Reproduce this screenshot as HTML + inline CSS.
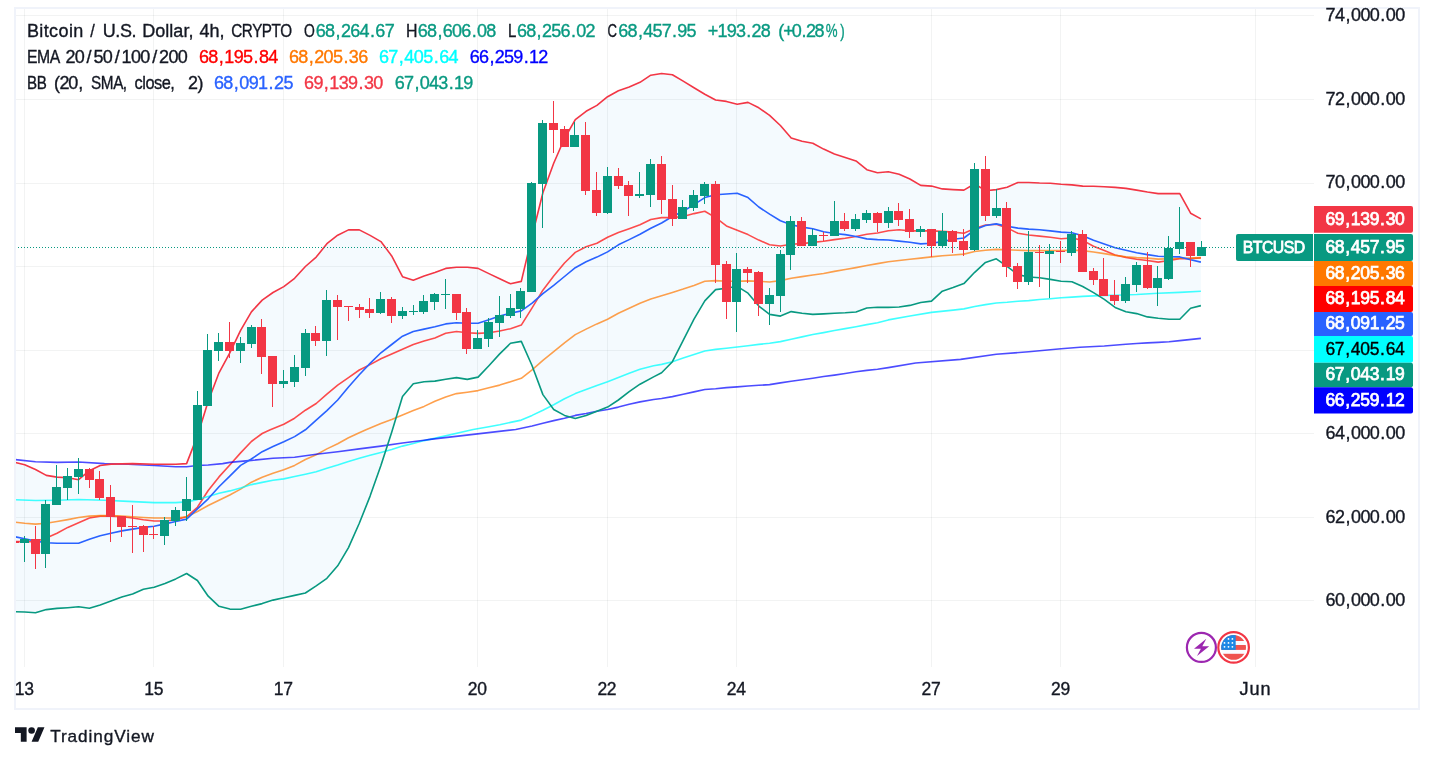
<!DOCTYPE html>
<html><head><meta charset="utf-8"><title>BTCUSD chart</title>
<style>html,body{margin:0;padding:0;background:#fff;width:1434px;height:762px;overflow:hidden}
svg text{font-family:'Liberation Sans', sans-serif;white-space:pre;stroke-width:0.35px;paint-order:stroke fill}</style></head>
<body>
<svg width="1434" height="762" viewBox="0 0 1434 762" style="position:absolute;left:0;top:0;will-change:transform">
<rect x="15" y="15" width="1299" height="1" fill="rgba(42,46,57,0.06)"/>
<rect x="15" y="99" width="1299" height="1" fill="rgba(42,46,57,0.06)"/>
<rect x="15" y="183" width="1299" height="1" fill="rgba(42,46,57,0.06)"/>
<rect x="15" y="266" width="1299" height="1" fill="rgba(42,46,57,0.06)"/>
<rect x="15" y="350" width="1299" height="1" fill="rgba(42,46,57,0.06)"/>
<rect x="15" y="433" width="1299" height="1" fill="rgba(42,46,57,0.06)"/>
<rect x="15" y="517" width="1299" height="1" fill="rgba(42,46,57,0.06)"/>
<rect x="15" y="600" width="1299" height="1" fill="rgba(42,46,57,0.06)"/>
<rect x="24" y="8" width="1" height="659" fill="rgba(42,46,57,0.06)"/>
<rect x="153" y="8" width="1" height="659" fill="rgba(42,46,57,0.06)"/>
<rect x="283" y="8" width="1" height="659" fill="rgba(42,46,57,0.06)"/>
<rect x="477" y="8" width="1" height="659" fill="rgba(42,46,57,0.06)"/>
<rect x="607" y="8" width="1" height="659" fill="rgba(42,46,57,0.06)"/>
<rect x="736" y="8" width="1" height="659" fill="rgba(42,46,57,0.06)"/>
<rect x="931" y="8" width="1" height="659" fill="rgba(42,46,57,0.06)"/>
<rect x="1060" y="8" width="1" height="659" fill="rgba(42,46,57,0.06)"/>
<rect x="1255" y="8" width="1" height="659" fill="rgba(42,46,57,0.06)"/>
<polygon points="15.5,462.4 24.7,464.8 35.5,469.5 46.3,475.4 57.0,477.1 67.8,477.8 78.6,479.7 89.4,470.7 100.2,465.5 111.0,464.1 132.6,463.6 154.2,464.3 175.8,464.3 186.6,463.6 197.4,435.9 208.2,401.2 219.0,372.8 229.8,352.8 240.6,330.3 251.4,311.9 262.2,300.1 273.0,292.5 283.8,286.6 294.6,278.3 305.4,266.5 316.2,257.1 326.9,243.7 337.7,235.2 348.5,229.9 359.3,229.9 370.1,235.4 380.9,241.6 391.7,255.9 402.5,276.7 413.3,280.2 424.1,276.0 434.9,272.4 445.7,268.4 456.5,267.2 467.3,267.2 478.1,268.4 488.9,273.6 499.7,278.8 510.5,283.8 521.3,281.4 531.6,238.0 542.9,192.8 553.7,163.3 564.5,138.5 575.3,119.6 586.1,111.3 596.9,105.4 607.6,96.7 618.4,90.8 629.2,87.0 640.0,82.3 650.8,75.2 661.6,73.5 672.4,74.7 683.2,81.1 694.0,87.7 704.8,94.3 715.6,100.0 726.4,101.4 737.2,104.3 748.0,102.4 758.8,107.8 769.6,115.4 780.4,125.5 791.2,138.0 802.0,141.3 812.8,143.2 823.6,149.1 834.4,153.9 845.2,157.4 856.0,160.9 866.8,169.7 877.5,172.8 888.3,171.7 899.1,174.3 909.9,179.0 920.7,185.4 931.5,186.1 942.3,188.9 953.1,189.6 963.9,190.1 974.7,183.7 985.5,190.8 996.3,189.6 1007.1,187.2 1017.9,182.5 1028.7,182.5 1039.5,183.0 1050.3,183.2 1061.1,184.2 1071.9,184.9 1082.7,186.1 1093.5,186.3 1104.3,186.7 1115.1,187.4 1125.9,188.4 1136.6,190.1 1147.4,192.0 1158.2,193.6 1169.0,193.6 1179.8,193.6 1190.6,213.2 1200.9,218.9 1200.9,305.6 1190.6,308.2 1179.8,319.3 1169.0,319.3 1158.2,318.3 1147.4,316.9 1136.6,313.6 1125.9,311.7 1115.1,307.4 1104.3,299.4 1093.5,292.6 1082.7,286.5 1071.9,281.7 1061.1,281.3 1050.3,279.4 1039.5,277.7 1028.7,277.0 1017.9,274.6 1007.1,266.4 996.3,258.8 985.5,262.4 974.7,272.3 963.9,283.6 953.1,287.6 942.3,291.2 931.5,301.1 920.7,302.5 909.9,305.4 899.1,307.0 888.3,307.4 877.5,307.3 866.8,308.0 856.0,312.0 845.2,312.8 834.4,313.2 823.6,313.9 812.8,314.4 802.0,313.2 791.2,311.6 780.4,316.1 769.6,314.4 758.8,306.1 748.0,293.2 737.2,286.3 726.4,288.2 715.6,289.6 704.8,300.9 694.0,319.1 683.2,340.4 672.4,361.7 661.6,372.8 653.6,376.9 640.0,384.2 629.2,391.7 618.4,400.0 607.6,407.1 596.9,411.3 586.1,415.4 575.3,418.4 564.5,415.4 553.7,409.5 542.9,394.6 532.1,365.7 521.3,341.4 510.5,343.3 499.7,353.9 488.9,365.7 478.1,377.1 467.3,379.4 456.5,377.6 445.7,379.2 434.9,381.1 424.1,381.8 413.3,383.7 402.5,396.5 391.7,432.2 380.9,465.4 370.1,496.1 359.3,523.3 348.5,547.6 337.7,565.8 326.9,578.3 316.2,585.9 305.4,593.0 294.6,595.4 283.8,597.7 273.0,600.1 262.2,603.6 251.4,606.3 240.6,609.2 229.8,609.1 219.0,606.3 208.2,596.2 197.4,580.5 186.6,573.5 175.8,578.9 165.0,583.6 154.2,587.2 143.4,589.3 132.6,594.0 121.8,597.1 111.0,601.1 100.2,604.9 89.4,608.2 78.6,606.8 67.8,607.7 57.0,608.4 46.3,609.6 35.5,612.7 24.7,612.0 15.5,611.7" fill="rgba(33,150,243,0.05)"/>
<polyline points="15.5,541.6 35.5,541.6 46.3,538.0 57.0,533.3 67.8,527.4 78.6,522.7 89.4,518.0 100.2,516.1 111.0,516.1 121.8,516.8 132.6,518.0 143.4,519.8 154.2,521.0 165.0,521.0 175.8,519.8 186.6,516.8 197.4,507.3 208.2,490.5 219.0,476.9 229.8,465.0 240.6,452.9 251.4,441.5 262.2,433.5 270.3,429.8 283.8,424.3 294.6,418.2 305.4,410.2 316.2,403.5 326.9,394.1 337.7,385.1 348.5,377.6 359.3,370.0 370.1,364.6 380.9,358.7 391.7,353.9 402.5,349.2 413.3,344.5 424.1,340.9 434.9,337.9 445.7,333.2 456.5,331.5 467.3,332.7 478.1,333.4 488.9,332.7 499.7,331.0 510.5,328.7 521.3,325.1 532.1,307.9 542.9,290.2 553.7,276.0 564.5,263.0 575.3,252.4 586.1,246.7 596.9,243.2 607.6,237.2 618.4,232.5 629.2,228.7 640.0,224.7 650.8,219.5 661.6,217.6 672.4,217.6 683.2,216.5 694.0,213.6 704.8,211.3 715.6,217.6 726.4,225.9 737.2,230.2 748.0,234.6 758.8,240.1 769.6,244.8 780.4,246.0 791.2,244.3 802.0,243.6 812.8,242.4 823.6,241.3 834.4,239.6 845.2,238.2 856.0,236.5 866.8,234.2 877.5,233.0 888.3,230.8 899.1,229.8 909.9,230.9 920.7,230.9 931.5,230.9 942.3,231.4 953.1,232.1 963.9,233.3 974.7,228.6 985.5,225.0 996.3,224.3 1007.1,227.9 1017.9,233.3 1028.7,235.0 1039.5,236.1 1050.3,237.3 1061.1,238.7 1071.9,238.0 1082.7,240.4 1093.5,246.3 1104.3,250.4 1115.1,255.0 1125.9,257.4 1136.6,259.3 1147.4,260.5 1158.2,262.1 1169.0,260.5 1179.8,258.6 1190.6,258.6 1200.9,257.9" fill="none" stroke="#FF0000" stroke-width="1.6" stroke-opacity="0.7" stroke-linejoin="round"/>
<polyline points="15.5,522.2 24.7,523.2 35.5,524.1 46.3,523.2 57.0,521.5 67.8,519.6 78.6,517.5 89.4,516.1 100.2,515.6 111.0,515.6 121.8,516.1 132.6,516.8 143.4,517.5 154.2,518.0 165.0,518.0 175.8,518.0 186.6,516.8 197.4,511.5 208.2,505.5 219.0,500.2 229.8,495.0 240.6,489.1 251.4,482.2 262.2,477.2 273.0,473.2 283.8,469.7 294.6,465.4 305.4,459.5 316.2,454.8 326.9,448.9 337.7,443.7 348.5,437.8 359.3,432.8 366.0,429.8 380.9,423.6 391.7,419.6 402.5,414.9 413.3,410.6 424.1,406.4 434.9,401.2 445.7,396.9 456.5,393.6 467.3,392.2 478.1,390.6 488.9,387.7 499.7,385.1 510.5,381.8 521.3,378.3 532.1,369.8 542.9,360.3 553.7,351.6 564.5,342.8 575.3,334.6 586.1,329.1 596.9,323.9 607.6,319.2 618.4,313.3 629.2,308.3 640.0,303.2 650.8,299.1 661.6,295.8 672.4,292.4 683.2,289.1 694.0,285.4 704.8,281.3 715.6,280.6 726.4,281.3 737.2,281.3 748.0,280.9 758.8,281.3 769.6,282.0 780.4,280.6 791.2,278.3 802.0,276.6 812.8,275.0 823.6,273.5 834.4,271.4 845.2,269.5 856.0,267.6 866.8,265.5 877.5,263.6 888.3,261.8 899.1,260.5 909.9,259.3 920.7,258.1 931.5,256.9 942.3,255.7 953.1,255.0 963.9,254.1 974.7,251.5 985.5,250.3 996.3,249.4 1007.1,249.8 1017.9,250.3 1028.7,250.6 1039.5,250.6 1050.3,250.6 1061.1,250.6 1071.9,250.1 1082.7,250.6 1093.5,252.0 1104.3,253.6 1115.1,255.4 1125.9,256.7 1136.6,257.6 1147.4,258.1 1158.2,259.1 1169.0,258.8 1179.8,258.3 1190.6,258.1 1200.9,257.6" fill="none" stroke="#FF7800" stroke-width="1.6" stroke-opacity="0.7" stroke-linejoin="round"/>
<polyline points="15.5,499.8 35.5,500.5 57.0,500.2 78.6,499.5 104.5,500.2 128.1,501.4 154.2,502.6 175.8,502.6 186.6,501.9 197.4,499.6 208.2,496.4 219.0,493.3 229.8,490.9 240.6,487.9 251.4,484.6 262.2,482.4 273.0,480.3 283.8,478.9 294.6,476.5 305.4,474.2 316.2,471.8 326.9,468.3 337.7,465.0 348.5,461.4 359.3,458.3 370.1,455.3 380.9,452.4 391.7,449.4 402.5,446.1 413.3,443.5 424.1,440.6 430.0,439.4 473.2,429.5 488.9,426.7 499.7,424.8 510.5,422.4 521.3,420.1 532.1,415.4 542.9,410.2 553.7,404.7 564.5,398.8 575.3,393.6 586.1,389.4 596.9,385.4 607.6,381.8 618.4,377.6 629.2,373.3 640.0,369.3 653.6,365.7 661.6,364.4 672.4,361.7 683.2,358.1 694.0,354.6 704.8,351.0 715.6,349.4 726.4,348.2 737.2,347.0 748.0,345.8 758.8,344.4 769.6,343.2 780.4,341.6 791.2,339.2 802.0,336.9 812.8,334.5 823.6,332.6 834.4,330.5 845.2,328.6 856.0,326.7 866.8,324.6 877.5,322.7 888.3,319.9 909.9,316.0 931.5,312.4 953.1,310.1 963.9,308.9 974.7,306.5 985.5,304.6 996.3,303.0 1007.1,302.3 1017.9,301.3 1028.7,300.6 1039.5,299.5 1050.3,298.7 1061.1,297.8 1071.9,297.1 1082.7,296.4 1093.5,295.9 1104.3,295.4 1115.1,295.2 1136.6,294.5 1158.2,293.3 1179.8,292.4 1200.9,291.2" fill="none" stroke="#00FFFF" stroke-width="1.6" stroke-opacity="0.75" stroke-linejoin="round"/>
<polyline points="15.5,459.6 35.5,461.7 57.0,462.4 78.6,462.0 104.5,463.6 128.1,464.3 154.2,465.5 175.8,466.7 186.6,466.7 197.4,465.5 208.2,465.0 222.6,463.6 229.8,462.4 251.4,460.4 273.0,458.3 294.6,457.2 316.2,454.3 337.7,451.7 359.3,448.9 380.9,446.1 402.5,443.0 424.1,440.2 430.0,439.4 515.7,429.5 532.1,426.0 542.9,423.2 553.7,420.6 564.5,418.2 575.3,415.4 586.1,413.5 596.9,411.3 607.6,409.5 618.4,407.1 629.2,404.3 640.0,401.9 653.6,399.5 661.6,398.5 672.4,396.6 683.2,394.3 694.0,391.9 704.8,389.5 715.6,388.8 726.4,387.6 737.2,386.9 748.0,386.0 758.8,385.3 769.6,384.6 780.4,382.9 791.2,381.3 802.0,379.8 812.8,378.2 823.6,376.5 834.4,375.1 845.2,373.5 856.0,371.8 866.8,370.4 877.5,369.2 888.3,367.6 915.6,363.0 960.6,359.4 996.3,354.2 1028.7,351.8 1061.1,348.8 1080.0,347.2 1104.3,346.0 1125.9,344.3 1136.6,343.5 1147.4,342.9 1158.2,342.4 1169.0,341.7 1179.8,340.6 1200.9,338.4" fill="none" stroke="#0000FF" stroke-width="1.6" stroke-opacity="0.7" stroke-linejoin="round"/>
<polyline points="15.5,536.9 24.7,538.7 35.5,541.1 46.3,542.8 57.0,543.2 67.8,543.2 78.6,543.2 89.4,539.2 100.2,535.7 111.0,533.3 121.8,530.9 132.6,529.1 143.4,527.4 154.2,526.2 165.0,523.9 175.8,521.5 186.6,519.1 197.4,508.8 208.2,498.8 219.0,486.7 229.8,476.1 240.6,465.4 251.4,459.0 262.2,451.7 273.0,446.5 283.8,441.8 294.6,436.6 305.4,429.8 316.2,420.1 326.9,410.6 337.7,400.0 348.5,387.0 359.3,374.7 370.1,363.4 380.9,352.8 391.7,344.5 402.5,336.2 413.3,331.5 424.1,329.1 434.9,326.8 445.7,323.9 456.5,322.8 467.3,323.2 478.1,323.2 488.9,319.7 499.7,316.1 510.5,313.3 521.3,310.9 532.1,303.2 542.9,293.7 553.7,285.4 564.5,276.5 575.3,267.7 586.1,261.8 596.9,257.1 607.6,251.9 618.4,244.8 629.2,239.6 640.0,234.2 650.8,228.3 661.6,223.0 672.4,216.5 683.2,211.3 694.0,204.6 704.8,197.6 715.6,194.7 726.4,194.0 737.2,193.3 748.0,197.6 758.8,207.0 769.6,214.1 780.4,220.7 791.2,224.7 802.0,227.1 812.8,228.7 823.6,231.8 834.4,233.5 845.2,234.6 856.0,236.5 866.8,238.9 877.5,239.6 888.3,240.0 899.1,241.1 909.9,242.3 920.7,243.9 931.5,243.2 942.3,241.6 953.1,239.2 963.9,238.0 974.7,229.8 985.5,225.5 996.3,223.9 1007.1,226.2 1017.9,228.1 1028.7,229.1 1039.5,229.8 1050.3,230.9 1061.1,232.1 1071.9,232.8 1082.7,235.7 1093.5,240.3 1104.3,243.9 1115.1,247.7 1125.9,250.3 1136.6,252.7 1147.4,254.6 1158.2,256.2 1169.0,256.7 1179.8,256.9 1190.6,259.8 1200.9,262.1" fill="none" stroke="#2962FF" stroke-width="1.6" stroke-opacity="1" stroke-linejoin="round"/>
<polyline points="15.5,462.4 24.7,464.8 35.5,469.5 46.3,475.4 57.0,477.1 67.8,477.8 78.6,479.7 89.4,470.7 100.2,465.5 111.0,464.1 132.6,463.6 154.2,464.3 175.8,464.3 186.6,463.6 197.4,435.9 208.2,401.2 219.0,372.8 229.8,352.8 240.6,330.3 251.4,311.9 262.2,300.1 273.0,292.5 283.8,286.6 294.6,278.3 305.4,266.5 316.2,257.1 326.9,243.7 337.7,235.2 348.5,229.9 359.3,229.9 370.1,235.4 380.9,241.6 391.7,255.9 402.5,276.7 413.3,280.2 424.1,276.0 434.9,272.4 445.7,268.4 456.5,267.2 467.3,267.2 478.1,268.4 488.9,273.6 499.7,278.8 510.5,283.8 521.3,281.4 531.6,238.0 542.9,192.8 553.7,163.3 564.5,138.5 575.3,119.6 586.1,111.3 596.9,105.4 607.6,96.7 618.4,90.8 629.2,87.0 640.0,82.3 650.8,75.2 661.6,73.5 672.4,74.7 683.2,81.1 694.0,87.7 704.8,94.3 715.6,100.0 726.4,101.4 737.2,104.3 748.0,102.4 758.8,107.8 769.6,115.4 780.4,125.5 791.2,138.0 802.0,141.3 812.8,143.2 823.6,149.1 834.4,153.9 845.2,157.4 856.0,160.9 866.8,169.7 877.5,172.8 888.3,171.7 899.1,174.3 909.9,179.0 920.7,185.4 931.5,186.1 942.3,188.9 953.1,189.6 963.9,190.1 974.7,183.7 985.5,190.8 996.3,189.6 1007.1,187.2 1017.9,182.5 1028.7,182.5 1039.5,183.0 1050.3,183.2 1061.1,184.2 1071.9,184.9 1082.7,186.1 1093.5,186.3 1104.3,186.7 1115.1,187.4 1125.9,188.4 1136.6,190.1 1147.4,192.0 1158.2,193.6 1169.0,193.6 1179.8,193.6 1190.6,213.2 1200.9,218.9" fill="none" stroke="#F23645" stroke-width="1.6" stroke-opacity="1" stroke-linejoin="round"/>
<polyline points="15.5,611.7 24.7,612.0 35.5,612.7 46.3,609.6 57.0,608.4 67.8,607.7 78.6,606.8 89.4,608.2 100.2,604.9 111.0,601.1 121.8,597.1 132.6,594.0 143.4,589.3 154.2,587.2 165.0,583.6 175.8,578.9 186.6,573.5 197.4,580.5 208.2,596.2 219.0,606.3 229.8,609.1 240.6,609.2 251.4,606.3 262.2,603.6 273.0,600.1 283.8,597.7 294.6,595.4 305.4,593.0 316.2,585.9 326.9,578.3 337.7,565.8 348.5,547.6 359.3,523.3 370.1,496.1 380.9,465.4 391.7,432.2 402.5,396.5 413.3,383.7 424.1,381.8 434.9,381.1 445.7,379.2 456.5,377.6 467.3,379.4 478.1,377.1 488.9,365.7 499.7,353.9 510.5,343.3 521.3,341.4 532.1,365.7 542.9,394.6 553.7,409.5 564.5,415.4 575.3,418.4 586.1,415.4 596.9,411.3 607.6,407.1 618.4,400.0 629.2,391.7 640.0,384.2 653.6,376.9 661.6,372.8 672.4,361.7 683.2,340.4 694.0,319.1 704.8,300.9 715.6,289.6 726.4,288.2 737.2,286.3 748.0,293.2 758.8,306.1 769.6,314.4 780.4,316.1 791.2,311.6 802.0,313.2 812.8,314.4 823.6,313.9 834.4,313.2 845.2,312.8 856.0,312.0 866.8,308.0 877.5,307.3 888.3,307.4 899.1,307.0 909.9,305.4 920.7,302.5 931.5,301.1 942.3,291.2 953.1,287.6 963.9,283.6 974.7,272.3 985.5,262.4 996.3,258.8 1007.1,266.4 1017.9,274.6 1028.7,277.0 1039.5,277.7 1050.3,279.4 1061.1,281.3 1071.9,281.7 1082.7,286.5 1093.5,292.6 1104.3,299.4 1115.1,307.4 1125.9,311.7 1136.6,313.6 1147.4,316.9 1158.2,318.3 1169.0,319.3 1179.8,319.3 1190.6,308.2 1200.9,305.6" fill="none" stroke="#089981" stroke-width="1.6" stroke-opacity="1" stroke-linejoin="round"/>
<line x1="15" y1="247.5" x2="1236" y2="247.5" stroke="#089981" stroke-width="1" stroke-dasharray="1 2"/>
<g shape-rendering="crispEdges">
<rect x="15" y="541" width="4" height="2" fill="#F23645"/>
<rect x="24" y="536" width="1" height="26" fill="#089981"/>
<rect x="20" y="539" width="9" height="4" fill="#089981"/>
<rect x="35" y="526" width="1" height="43" fill="#F23645"/>
<rect x="31" y="539" width="9" height="15" fill="#F23645"/>
<rect x="45" y="500" width="1" height="68" fill="#089981"/>
<rect x="41" y="504" width="9" height="50" fill="#089981"/>
<rect x="56" y="465" width="1" height="40" fill="#089981"/>
<rect x="52" y="487" width="9" height="18" fill="#089981"/>
<rect x="67" y="468" width="1" height="32" fill="#089981"/>
<rect x="63" y="476" width="9" height="12" fill="#089981"/>
<rect x="78" y="458" width="1" height="36" fill="#089981"/>
<rect x="74" y="469" width="9" height="8" fill="#089981"/>
<rect x="89" y="468" width="1" height="20" fill="#F23645"/>
<rect x="85" y="469" width="9" height="11" fill="#F23645"/>
<rect x="99" y="471" width="1" height="29" fill="#F23645"/>
<rect x="95" y="479" width="9" height="19" fill="#F23645"/>
<rect x="110" y="485" width="1" height="57" fill="#F23645"/>
<rect x="106" y="497" width="9" height="20" fill="#F23645"/>
<rect x="121" y="516" width="1" height="21" fill="#F23645"/>
<rect x="117" y="516" width="9" height="11" fill="#F23645"/>
<rect x="132" y="505" width="1" height="48" fill="#F23645"/>
<rect x="128" y="526" width="9" height="1" fill="#F23645"/>
<rect x="143" y="525" width="1" height="27" fill="#F23645"/>
<rect x="139" y="526" width="9" height="9" fill="#F23645"/>
<rect x="153" y="526" width="1" height="13" fill="#F23645"/>
<rect x="149" y="534" width="9" height="1" fill="#F23645"/>
<rect x="164" y="517" width="1" height="28" fill="#089981"/>
<rect x="160" y="520" width="9" height="16" fill="#089981"/>
<rect x="175" y="507" width="1" height="19" fill="#089981"/>
<rect x="171" y="510" width="9" height="11" fill="#089981"/>
<rect x="186" y="477" width="1" height="44" fill="#089981"/>
<rect x="182" y="499" width="9" height="12" fill="#089981"/>
<rect x="197" y="391" width="1" height="109" fill="#089981"/>
<rect x="193" y="405" width="9" height="95" fill="#089981"/>
<rect x="207" y="334" width="1" height="72" fill="#089981"/>
<rect x="203" y="350" width="9" height="56" fill="#089981"/>
<rect x="218" y="333" width="1" height="28" fill="#089981"/>
<rect x="214" y="342" width="9" height="9" fill="#089981"/>
<rect x="229" y="322" width="1" height="36" fill="#F23645"/>
<rect x="225" y="342" width="9" height="9" fill="#F23645"/>
<rect x="240" y="337" width="1" height="26" fill="#089981"/>
<rect x="236" y="343" width="9" height="8" fill="#089981"/>
<rect x="251" y="325" width="1" height="23" fill="#089981"/>
<rect x="247" y="327" width="9" height="17" fill="#089981"/>
<rect x="261" y="319" width="1" height="55" fill="#F23645"/>
<rect x="257" y="327" width="9" height="30" fill="#F23645"/>
<rect x="272" y="356" width="1" height="51" fill="#F23645"/>
<rect x="268" y="356" width="9" height="28" fill="#F23645"/>
<rect x="283" y="370" width="1" height="18" fill="#089981"/>
<rect x="279" y="381" width="9" height="3" fill="#089981"/>
<rect x="294" y="355" width="1" height="32" fill="#089981"/>
<rect x="290" y="367" width="9" height="15" fill="#089981"/>
<rect x="305" y="329" width="1" height="47" fill="#089981"/>
<rect x="301" y="333" width="9" height="35" fill="#089981"/>
<rect x="315" y="326" width="1" height="20" fill="#F23645"/>
<rect x="311" y="333" width="9" height="8" fill="#F23645"/>
<rect x="326" y="290" width="1" height="66" fill="#089981"/>
<rect x="322" y="300" width="9" height="41" fill="#089981"/>
<rect x="337" y="295" width="1" height="45" fill="#F23645"/>
<rect x="333" y="300" width="9" height="7" fill="#F23645"/>
<rect x="348" y="306" width="1" height="15" fill="#F23645"/>
<rect x="344" y="306" width="9" height="1" fill="#F23645"/>
<rect x="359" y="304" width="1" height="14" fill="#F23645"/>
<rect x="355" y="307" width="9" height="3" fill="#F23645"/>
<rect x="369" y="298" width="1" height="20" fill="#F23645"/>
<rect x="365" y="309" width="9" height="4" fill="#F23645"/>
<rect x="380" y="292" width="1" height="22" fill="#089981"/>
<rect x="376" y="299" width="9" height="14" fill="#089981"/>
<rect x="391" y="297" width="1" height="26" fill="#F23645"/>
<rect x="387" y="299" width="9" height="17" fill="#F23645"/>
<rect x="402" y="307" width="1" height="12" fill="#089981"/>
<rect x="398" y="311" width="9" height="5" fill="#089981"/>
<rect x="413" y="305" width="1" height="10" fill="#089981"/>
<rect x="409" y="311" width="9" height="1" fill="#089981"/>
<rect x="423" y="295" width="1" height="19" fill="#089981"/>
<rect x="419" y="301" width="9" height="11" fill="#089981"/>
<rect x="434" y="293" width="1" height="17" fill="#089981"/>
<rect x="430" y="294" width="9" height="8" fill="#089981"/>
<rect x="445" y="279" width="1" height="30" fill="#089981"/>
<rect x="441" y="294" width="9" height="1" fill="#089981"/>
<rect x="456" y="294" width="1" height="26" fill="#F23645"/>
<rect x="452" y="294" width="9" height="19" fill="#F23645"/>
<rect x="466" y="308" width="1" height="46" fill="#F23645"/>
<rect x="462" y="312" width="9" height="37" fill="#F23645"/>
<rect x="477" y="330" width="1" height="19" fill="#089981"/>
<rect x="473" y="338" width="9" height="11" fill="#089981"/>
<rect x="488" y="318" width="1" height="29" fill="#089981"/>
<rect x="484" y="322" width="9" height="17" fill="#089981"/>
<rect x="499" y="296" width="1" height="41" fill="#089981"/>
<rect x="495" y="315" width="9" height="8" fill="#089981"/>
<rect x="510" y="294" width="1" height="24" fill="#089981"/>
<rect x="506" y="308" width="9" height="8" fill="#089981"/>
<rect x="520" y="288" width="1" height="30" fill="#089981"/>
<rect x="516" y="291" width="9" height="18" fill="#089981"/>
<rect x="531" y="182" width="1" height="110" fill="#089981"/>
<rect x="527" y="183" width="9" height="109" fill="#089981"/>
<rect x="542" y="120" width="1" height="108" fill="#089981"/>
<rect x="538" y="123" width="9" height="61" fill="#089981"/>
<rect x="553" y="101" width="1" height="52" fill="#F23645"/>
<rect x="549" y="123" width="9" height="7" fill="#F23645"/>
<rect x="564" y="126" width="1" height="21" fill="#F23645"/>
<rect x="560" y="129" width="9" height="18" fill="#F23645"/>
<rect x="574" y="122" width="1" height="25" fill="#089981"/>
<rect x="570" y="135" width="9" height="12" fill="#089981"/>
<rect x="585" y="122" width="1" height="73" fill="#F23645"/>
<rect x="581" y="135" width="9" height="56" fill="#F23645"/>
<rect x="596" y="172" width="1" height="44" fill="#F23645"/>
<rect x="592" y="190" width="9" height="23" fill="#F23645"/>
<rect x="607" y="167" width="1" height="47" fill="#089981"/>
<rect x="603" y="176" width="9" height="37" fill="#089981"/>
<rect x="618" y="168" width="1" height="21" fill="#F23645"/>
<rect x="614" y="176" width="9" height="10" fill="#F23645"/>
<rect x="628" y="181" width="1" height="35" fill="#F23645"/>
<rect x="624" y="185" width="9" height="11" fill="#F23645"/>
<rect x="639" y="172" width="1" height="26" fill="#089981"/>
<rect x="635" y="194" width="9" height="2" fill="#089981"/>
<rect x="650" y="159" width="1" height="48" fill="#089981"/>
<rect x="646" y="164" width="9" height="31" fill="#089981"/>
<rect x="661" y="156" width="1" height="58" fill="#F23645"/>
<rect x="657" y="164" width="9" height="36" fill="#F23645"/>
<rect x="672" y="185" width="1" height="41" fill="#F23645"/>
<rect x="668" y="199" width="9" height="20" fill="#F23645"/>
<rect x="682" y="200" width="1" height="19" fill="#089981"/>
<rect x="678" y="207" width="9" height="12" fill="#089981"/>
<rect x="693" y="190" width="1" height="21" fill="#089981"/>
<rect x="689" y="195" width="9" height="13" fill="#089981"/>
<rect x="704" y="182" width="1" height="22" fill="#089981"/>
<rect x="700" y="184" width="9" height="12" fill="#089981"/>
<rect x="715" y="181" width="1" height="102" fill="#F23645"/>
<rect x="711" y="184" width="9" height="81" fill="#F23645"/>
<rect x="726" y="261" width="1" height="58" fill="#F23645"/>
<rect x="722" y="264" width="9" height="38" fill="#F23645"/>
<rect x="736" y="253" width="1" height="79" fill="#089981"/>
<rect x="732" y="269" width="9" height="33" fill="#089981"/>
<rect x="747" y="267" width="1" height="16" fill="#F23645"/>
<rect x="743" y="269" width="9" height="4" fill="#F23645"/>
<rect x="758" y="271" width="1" height="45" fill="#F23645"/>
<rect x="754" y="272" width="9" height="32" fill="#F23645"/>
<rect x="769" y="288" width="1" height="37" fill="#089981"/>
<rect x="765" y="295" width="9" height="9" fill="#089981"/>
<rect x="780" y="250" width="1" height="62" fill="#089981"/>
<rect x="776" y="254" width="9" height="42" fill="#089981"/>
<rect x="790" y="216" width="1" height="54" fill="#089981"/>
<rect x="786" y="221" width="9" height="34" fill="#089981"/>
<rect x="801" y="217" width="1" height="29" fill="#F23645"/>
<rect x="797" y="221" width="9" height="25" fill="#F23645"/>
<rect x="812" y="229" width="1" height="17" fill="#089981"/>
<rect x="808" y="235" width="9" height="11" fill="#089981"/>
<rect x="823" y="232" width="1" height="9" fill="#F23645"/>
<rect x="819" y="235" width="9" height="1" fill="#F23645"/>
<rect x="834" y="201" width="1" height="35" fill="#089981"/>
<rect x="830" y="221" width="9" height="15" fill="#089981"/>
<rect x="844" y="213" width="1" height="18" fill="#F23645"/>
<rect x="840" y="221" width="9" height="8" fill="#F23645"/>
<rect x="855" y="214" width="1" height="17" fill="#089981"/>
<rect x="851" y="219" width="9" height="10" fill="#089981"/>
<rect x="866" y="210" width="1" height="13" fill="#089981"/>
<rect x="862" y="213" width="9" height="7" fill="#089981"/>
<rect x="877" y="212" width="1" height="20" fill="#F23645"/>
<rect x="873" y="213" width="9" height="10" fill="#F23645"/>
<rect x="888" y="207" width="1" height="21" fill="#089981"/>
<rect x="884" y="211" width="9" height="12" fill="#089981"/>
<rect x="898" y="203" width="1" height="23" fill="#F23645"/>
<rect x="894" y="211" width="9" height="9" fill="#F23645"/>
<rect x="909" y="209" width="1" height="29" fill="#F23645"/>
<rect x="905" y="219" width="9" height="13" fill="#F23645"/>
<rect x="920" y="226" width="1" height="11" fill="#089981"/>
<rect x="916" y="229" width="9" height="3" fill="#089981"/>
<rect x="931" y="229" width="1" height="28" fill="#F23645"/>
<rect x="927" y="229" width="9" height="17" fill="#F23645"/>
<rect x="942" y="213" width="1" height="34" fill="#089981"/>
<rect x="938" y="231" width="9" height="15" fill="#089981"/>
<rect x="952" y="230" width="1" height="23" fill="#F23645"/>
<rect x="948" y="231" width="9" height="11" fill="#F23645"/>
<rect x="963" y="229" width="1" height="27" fill="#F23645"/>
<rect x="959" y="241" width="9" height="9" fill="#F23645"/>
<rect x="974" y="163" width="1" height="88" fill="#089981"/>
<rect x="970" y="169" width="9" height="81" fill="#089981"/>
<rect x="985" y="156" width="1" height="65" fill="#F23645"/>
<rect x="981" y="169" width="9" height="47" fill="#F23645"/>
<rect x="996" y="189" width="1" height="29" fill="#089981"/>
<rect x="992" y="208" width="9" height="8" fill="#089981"/>
<rect x="1006" y="202" width="1" height="75" fill="#F23645"/>
<rect x="1002" y="208" width="9" height="59" fill="#F23645"/>
<rect x="1017" y="263" width="1" height="26" fill="#F23645"/>
<rect x="1013" y="266" width="9" height="16" fill="#F23645"/>
<rect x="1028" y="231" width="1" height="54" fill="#089981"/>
<rect x="1024" y="252" width="9" height="30" fill="#089981"/>
<rect x="1039" y="245" width="1" height="42" fill="#F23645"/>
<rect x="1035" y="252" width="9" height="1" fill="#F23645"/>
<rect x="1049" y="244" width="1" height="54" fill="#089981"/>
<rect x="1045" y="251" width="9" height="3" fill="#089981"/>
<rect x="1060" y="241" width="1" height="22" fill="#F23645"/>
<rect x="1056" y="251" width="9" height="1" fill="#F23645"/>
<rect x="1071" y="231" width="1" height="25" fill="#089981"/>
<rect x="1067" y="234" width="9" height="19" fill="#089981"/>
<rect x="1082" y="230" width="1" height="42" fill="#F23645"/>
<rect x="1078" y="234" width="9" height="38" fill="#F23645"/>
<rect x="1093" y="268" width="1" height="17" fill="#F23645"/>
<rect x="1089" y="271" width="9" height="9" fill="#F23645"/>
<rect x="1103" y="258" width="1" height="38" fill="#F23645"/>
<rect x="1099" y="279" width="9" height="17" fill="#F23645"/>
<rect x="1114" y="280" width="1" height="25" fill="#F23645"/>
<rect x="1110" y="295" width="9" height="6" fill="#F23645"/>
<rect x="1125" y="277" width="1" height="26" fill="#089981"/>
<rect x="1121" y="284" width="9" height="17" fill="#089981"/>
<rect x="1136" y="262" width="1" height="30" fill="#089981"/>
<rect x="1132" y="265" width="9" height="20" fill="#089981"/>
<rect x="1147" y="252" width="1" height="37" fill="#F23645"/>
<rect x="1143" y="265" width="9" height="23" fill="#F23645"/>
<rect x="1157" y="266" width="1" height="40" fill="#089981"/>
<rect x="1153" y="278" width="9" height="10" fill="#089981"/>
<rect x="1168" y="236" width="1" height="44" fill="#089981"/>
<rect x="1164" y="248" width="9" height="31" fill="#089981"/>
<rect x="1179" y="207" width="1" height="47" fill="#089981"/>
<rect x="1175" y="242" width="9" height="7" fill="#089981"/>
<rect x="1190" y="242" width="1" height="25" fill="#F23645"/>
<rect x="1186" y="242" width="9" height="14" fill="#F23645"/>
<rect x="1201" y="241" width="1" height="15" fill="#089981"/>
<rect x="1197" y="247" width="9" height="9" fill="#089981"/>
</g>
<rect x="15" y="8" width="1404" height="701" fill="none" stroke="#f0f3fa" stroke-width="2"/>
<path d="M1314 206H1411a2 2 0 0 1 2 2V230.8a2 2 0 0 1 -2 2H1314Z" fill="#F23645"/>
<path d="M1314 234H1411a2 2 0 0 1 2 2V259a2 2 0 0 1 -2 2H1314Z" fill="#089981"/>
<path d="M1314 261H1411a2 2 0 0 1 2 2V284a2 2 0 0 1 -2 2H1314Z" fill="#FF7800"/>
<path d="M1314 286H1411a2 2 0 0 1 2 2V309.9a2 2 0 0 1 -2 2H1314Z" fill="#FF0000"/>
<path d="M1314 311.9H1411a2 2 0 0 1 2 2V333.9a2 2 0 0 1 -2 2H1314Z" fill="#2962FF"/>
<path d="M1314 335.9H1411a2 2 0 0 1 2 2V360.8a2 2 0 0 1 -2 2H1314Z" fill="#00FFFF"/>
<path d="M1314 362.8H1411a2 2 0 0 1 2 2V385.2a2 2 0 0 1 -2 2H1314Z" fill="#089981"/>
<path d="M1314 387.2H1411a2 2 0 0 1 2 2V411.6a2 2 0 0 1 -2 2H1314Z" fill="#0000FF"/>
<path d="M1313 234H1238a2 2 0 0 0 -2 2V259a2 2 0 0 0 2 2H1313Z" fill="#089981"/>
<g><text x="-1.00" y="36.9" fill="#131722" stroke="#131722" font-size="18" font-weight="400" letter-spacing="0.397" transform="translate(27.90 0) scale(1.0000 1)">Bitcoin</text>
<text x="0.00" y="36.9" fill="#131722" stroke="#131722" font-size="18" font-weight="400" letter-spacing="0.000" transform="translate(90.30 0) scale(0.9000 1)">/</text>
<text x="-1.00" y="36.9" fill="#131722" stroke="#131722" font-size="18" font-weight="400" letter-spacing="-0.402" transform="translate(103.70 0) scale(1.0000 1)">U.S.</text>
<text x="-1.00" y="36.9" fill="#131722" stroke="#131722" font-size="18" font-weight="400" letter-spacing="0.013" transform="translate(143.30 0) scale(1.0000 1)">Dollar,</text>
<text x="0.00" y="36.9" fill="#131722" stroke="#131722" font-size="18" font-weight="400" letter-spacing="-0.011" transform="translate(199.50 0) scale(1.0000 1)">4h,</text>
<text x="0.00" y="36.9" fill="#131722" stroke="#131722" font-size="18" font-weight="400" letter-spacing="-0.550" transform="translate(231.30 0) scale(0.8491 1)">CRYPTO</text>
<text x="0.00" y="36.9" fill="#131722" stroke="#131722" font-size="18" font-weight="400" letter-spacing="0.000" transform="translate(303.90 0) scale(0.7714 1)">O</text>
<text x="315.75 325.06 335.48 340.88 350.19 359.50 369.92 375.33 384.64" y="36.9" fill="#089981" stroke="#089981" font-size="18" font-weight="400">68,264.67</text>
<text x="-1.00" y="36.9" fill="#131722" stroke="#131722" font-size="18" font-weight="400" letter-spacing="0.000" transform="translate(406.80 0) scale(0.8818 1)">H</text>
<text x="417.82 427.07 437.44 442.79 452.04 461.29 471.66 477.02 486.27" y="36.9" fill="#089981" stroke="#089981" font-size="18" font-weight="400">68,606.08</text>
<text x="-1.00" y="36.9" fill="#131722" stroke="#131722" font-size="18" font-weight="400" letter-spacing="0.000" transform="translate(508.90 0) scale(0.8333 1)">L</text>
<text x="516.93 526.21 536.59 541.97 551.24 560.52 570.91 576.28 585.56" y="36.9" fill="#089981" stroke="#089981" font-size="18" font-weight="400">68,256.02</text>
<text x="0.00" y="36.9" fill="#131722" stroke="#131722" font-size="18" font-weight="400" letter-spacing="0.000" transform="translate(607.40 0) scale(0.7308 1)">C</text>
<text x="618.31 627.53 637.88 643.22 652.44 661.67 672.02 677.35 686.58" y="36.9" fill="#089981" stroke="#089981" font-size="18" font-weight="400">68,457.95</text>
<text x="707.87 717.38 726.63 735.88 746.25 751.61 760.87" y="36.9" fill="#089981" stroke="#089981" font-size="18" font-weight="400">+193.28</text>
<text x="778.25 783.13 791.79 801.44 806.08 814.49" y="36.9" fill="#089981" stroke="#089981" font-size="18" font-weight="400">(+0.28</text>
<text x="0.00" y="36.9" fill="#089981" stroke="#089981" font-size="18" font-weight="400" letter-spacing="0.000" transform="translate(825.70 0) scale(0.7375 1)">%</text>
<text x="0.00" y="36.9" fill="#089981" stroke="#089981" font-size="18" font-weight="400" letter-spacing="0.000" transform="translate(840.20 0) scale(0.7400 1)">)</text>
<text x="-1.00" y="62.9" fill="#131722" stroke="#131722" font-size="18" font-weight="400" letter-spacing="-0.550" transform="translate(27.90 0) scale(0.8753 1)">EMA</text>
<text x="65.38 74.75 86.62 93.49 102.86 114.73 121.59 130.96 140.33 152.21 159.07 168.44 177.81" y="62.9" fill="#131722" stroke="#131722" font-size="18" font-weight="400">20/50/100/200</text>
<text x="198.98 208.35 218.82 224.27 233.64 243.01 253.48 258.94 268.31" y="62.9" fill="#FF0000" stroke="#FF0000" font-size="18" font-weight="400">68,195.84</text>
<text x="288.97 298.33 308.79 314.24 323.59 332.95 343.41 348.86 358.22" y="62.9" fill="#FF7800" stroke="#FF7800" font-size="18" font-weight="400">68,205.36</text>
<text x="378.90 388.32 398.83 404.33 413.74 423.16 433.67 439.17 448.59" y="62.9" fill="#00FFFF" stroke="#00FFFF" font-size="18" font-weight="400">67,405.64</text>
<text x="469.73 479.01 489.39 494.77 504.04 513.32 523.71 529.08 538.36" y="62.9" fill="#0000FF" stroke="#0000FF" font-size="18" font-weight="400">66,259.12</text>
<text x="-1.00" y="88.6" fill="#131722" stroke="#131722" font-size="18" font-weight="400" letter-spacing="-0.550" transform="translate(27.90 0) scale(0.8417 1)">BB</text>
<text x="54.06 59.48 68.21 78.14" y="88.6" fill="#131722" stroke="#131722" font-size="18" font-weight="400">(20,</text>
<text x="0.00" y="88.6" fill="#131722" stroke="#131722" font-size="18" font-weight="400" letter-spacing="-0.550" transform="translate(91.10 0) scale(0.8511 1)">SMA,</text>
<text x="0.00" y="88.6" fill="#131722" stroke="#131722" font-size="18" font-weight="400" letter-spacing="-0.550" transform="translate(134.60 0) scale(0.9106 1)">close,</text>
<text x="0.00" y="88.6" fill="#131722" stroke="#131722" font-size="18" font-weight="400" letter-spacing="-0.550" transform="translate(188.10 0) scale(0.9958 1)">2)</text>
<text x="213.98 223.37 233.85 239.31 248.69 258.08 268.55 274.02 283.40" y="88.6" fill="#2962FF" stroke="#2962FF" font-size="18" font-weight="400">68,091.25</text>
<text x="304.07 313.41 323.86 329.30 338.64 347.99 358.44 363.88 373.22" y="88.6" fill="#F23645" stroke="#F23645" font-size="18" font-weight="400">69,139.30</text>
<text x="394.73 404.01 414.39 419.77 429.04 438.32 448.71 454.08 463.36" y="88.6" fill="#089981" stroke="#089981" font-size="18" font-weight="400">67,043.19</text>
<text x="1325.60 1335.02 1345.53 1351.03 1360.44 1369.86 1380.37 1385.87 1395.29" y="21.1" fill="#131722" stroke="#131722" font-size="18" font-weight="400">74,000.00</text>
<text x="1325.60 1335.02 1345.53 1351.03 1360.44 1369.86 1380.37 1385.87 1395.29" y="104.7" fill="#131722" stroke="#131722" font-size="18" font-weight="400">72,000.00</text>
<text x="1325.60 1335.02 1345.53 1351.03 1360.44 1369.86 1380.37 1385.87 1395.29" y="188.2" fill="#131722" stroke="#131722" font-size="18" font-weight="400">70,000.00</text>
<text x="1325.60 1335.02 1345.53 1351.03 1360.44 1369.86 1380.37 1385.87 1395.29" y="438.9" fill="#131722" stroke="#131722" font-size="18" font-weight="400">64,000.00</text>
<text x="1325.60 1335.02 1345.53 1351.03 1360.44 1369.86 1380.37 1385.87 1395.29" y="522.5" fill="#131722" stroke="#131722" font-size="18" font-weight="400">62,000.00</text>
<text x="1325.60 1335.02 1345.53 1351.03 1360.44 1369.86 1380.37 1385.87 1395.29" y="606.1" fill="#131722" stroke="#131722" font-size="18" font-weight="400">60,000.00</text>
<text x="0.00" y="694.9" fill="#131722" stroke="#131722" font-size="17.5" font-weight="400" letter-spacing="0.900" transform="translate(1239.50 0) scale(1.0347 1)">Jun</text>
<text x="1325.44 1334.84 1345.27 1350.83 1360.23 1369.64 1380.07 1385.63 1395.03" y="224.6" fill="#fff" stroke="#fff" font-size="17.5" font-weight="400" style="stroke-width:0.75px">69,139.30</text>
<text x="1325.44 1334.84 1345.27 1350.83 1360.23 1369.64 1380.07 1385.63 1395.03" y="252.7" fill="#fff" stroke="#fff" font-size="17.5" font-weight="400" style="stroke-width:0.75px">68,457.95</text>
<text x="1325.44 1334.84 1345.27 1350.83 1360.23 1369.64 1380.07 1385.63 1395.03" y="278.7" fill="#fff" stroke="#fff" font-size="17.5" font-weight="400" style="stroke-width:0.75px">68,205.36</text>
<text x="1325.44 1334.84 1345.27 1350.83 1360.23 1369.64 1380.07 1385.63 1395.03" y="304.1" fill="#fff" stroke="#fff" font-size="17.5" font-weight="400" style="stroke-width:0.75px">68,195.84</text>
<text x="1325.44 1334.84 1345.27 1350.83 1360.23 1369.64 1380.07 1385.63 1395.03" y="329.1" fill="#fff" stroke="#fff" font-size="17.5" font-weight="400" style="stroke-width:0.75px">68,091.25</text>
<text x="1325.44 1334.84 1345.27 1350.83 1360.23 1369.64 1380.07 1385.63 1395.03" y="354.6" fill="#000" stroke="#000" font-size="17.5" font-weight="400">67,405.64</text>
<text x="1325.44 1334.84 1345.27 1350.83 1360.23 1369.64 1380.07 1385.63 1395.03" y="380.2" fill="#fff" stroke="#fff" font-size="17.5" font-weight="400" style="stroke-width:0.75px">67,043.19</text>
<text x="1325.44 1334.84 1345.27 1350.83 1360.23 1369.64 1380.07 1385.63 1395.03" y="405.6" fill="#fff" stroke="#fff" font-size="17.5" font-weight="400" style="stroke-width:0.75px">66,259.12</text>
<text x="-1.00" y="252.9" fill="#fff" stroke="#fff" font-size="16.5" font-weight="400" style="stroke-width:0.75px" letter-spacing="-0.550" transform="translate(1243.70 0) scale(0.9599 1)">BTCUSD</text>
<text x="0.00" y="742.0" fill="#131722" stroke="#131722" font-size="17" font-weight="400" letter-spacing="0.900" transform="translate(50.20 0) scale(1.0128 1)">TradingView</text>
<text x="14.71 24.15" y="694.9" fill="#131722" stroke="#131722" font-size="17.5">13</text>
<text x="144.31 153.75" y="694.9" fill="#131722" stroke="#131722" font-size="17.5">15</text>
<text x="273.81 283.25" y="694.9" fill="#131722" stroke="#131722" font-size="17.5">17</text>
<text x="467.71 477.15" y="694.9" fill="#131722" stroke="#131722" font-size="17.5">20</text>
<text x="597.41 606.85" y="694.9" fill="#131722" stroke="#131722" font-size="17.5">22</text>
<text x="726.71 736.15" y="694.9" fill="#131722" stroke="#131722" font-size="17.5">24</text>
<text x="921.61 931.05" y="694.9" fill="#131722" stroke="#131722" font-size="17.5">27</text>
<text x="1051.01 1060.45" y="694.9" fill="#131722" stroke="#131722" font-size="17.5">29</text></g>
<!-- TradingView logo mark -->
<g transform="translate(15 724.1) scale(0.83 0.8)" fill="#131722">
<path d="M14 22H7V11H0V4h14v18zM28 22h-8l7.5-18h8L28 22z"/><circle cx="20" cy="8" r="4"/>
</g>
<!-- lightning icon -->
<circle cx="1201.4" cy="647.4" r="14.5" fill="#fff" stroke="#9C27B0" stroke-width="2.2"/>
<path d="M1206.3 638.8L1194.0 648.7H1200.9L1197.0 655.9L1209.2 646.2H1202.3Z" fill="#9C27B0"/>
<!-- US flag icon -->
<circle cx="1233.6" cy="647.4" r="15.3" fill="#fff" stroke="#F23645" stroke-width="2.2"/>
<clipPath id="fc"><circle cx="1233.6" cy="647.4" r="12.4"/></clipPath>
<g clip-path="url(#fc)">
<rect x="1220" y="634" width="28" height="28" fill="#FAFBFF"/>
<rect x="1220" y="634" width="28" height="7" fill="#EF5350"/>
<rect x="1220" y="645" width="28" height="4.9" fill="#EF5350"/>
<rect x="1220" y="653.8" width="28" height="8" fill="#EF5350"/>
<rect x="1220" y="634" width="15.7" height="15.9" fill="#1E88E5"/>
<g fill="#fff">
<circle cx="1228.5" cy="638.9" r="0.9"/><circle cx="1232.4" cy="638.9" r="0.9"/>
<circle cx="1224.5" cy="642.9" r="0.9"/><circle cx="1228.5" cy="642.9" r="0.9"/><circle cx="1232.4" cy="642.9" r="0.9"/>
<circle cx="1224.5" cy="646.8" r="0.9"/><circle cx="1228.5" cy="646.8" r="0.9"/><circle cx="1232.4" cy="646.8" r="0.9"/>
</g></g>

</svg>
</body></html>
